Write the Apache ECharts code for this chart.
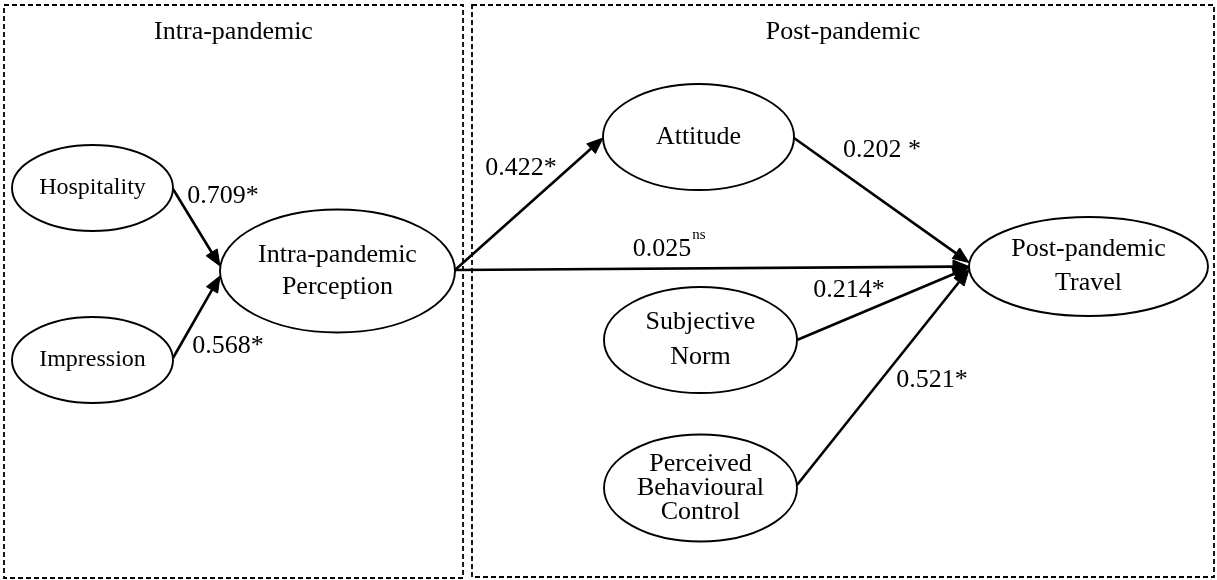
<!DOCTYPE html>
<html>
<head>
<meta charset="utf-8">
<script src="https://cdn.jsdelivr.net/npm/echarts@6/dist/echarts.min.js"></script>
<style>
html,body{margin:0;padding:0;background:#fff;}
#chart{width:1217px;height:580px;}
</style>
</head>
<body>
<div id="chart"></div>
<script>
// ---- data ----
const panelTitles = ['Intra-pandemic', 'Post-pandemic'];
const nodeNames = [
  'Hospitality',
  'Impression',
  'Intra-pandemic\nPerception',
  'Attitude',
  'Subjective\nNorm',
  'Perceived\nBehavioural\nControl',
  'Post-pandemic\nTravel'
];
const edgeFrom = [0, 1, 2, 2, 3, 4, 5];
const edgeTo = [2, 2, 3, 6, 6, 6, 6];
const coefficients = [0.709, 0.568, 0.422, 0.025, 0.202, 0.214, 0.521];
const significance = ['*', '*', '*', 'ns', '*', '*', '*'];

// ---- layout (diagram coordinates, same scale as the hidden axes) ----
const layout = {
  panels: [
    { x0: 4, y0: 5, x1: 463, y1: 578, ty: 32 },
    { x0: 472, y0: 5, x1: 1214, y1: 577, ty: 32 }
  ],
  nodes: [
    { cx: 92.5, cy: 188, rx: 80.5, ry: 43, fs: 24, lh: 30 },
    { cx: 92.5, cy: 360, rx: 80.5, ry: 43, fs: 24, lh: 30 },
    { cx: 337.5, cy: 271, rx: 117.5, ry: 61.5, fs: 26, lh: 32 },
    { cx: 698.5, cy: 137, rx: 95.5, ry: 53, fs: 26, lh: 30 },
    { cx: 700.5, cy: 340, rx: 96.5, ry: 53, fs: 26, lh: 35 },
    { cx: 700.5, cy: 488, rx: 96.5, ry: 53.5, fs: 26, lh: 24 },
    { cx: 1088.5, cy: 266.5, rx: 119.5, ry: 49.5, fs: 26, lh: 34 }
  ],
  edges: [
    { sdy: 1, tdy: -5, lx: 223, ly: 196, sep: '' },
    { sdy: -2, tdy: 5, lx: 228, ly: 346, sep: '' },
    { sdy: -1, tdy: 1, lx: 521, ly: 168, sep: '' },
    { sdy: -1, tdy: 0, lx: 662, ly: 249, sep: '' },
    { sdy: 1, tdy: -4, lx: 882, ly: 150, sep: ' ' },
    { sdy: 0, tdy: 1, lx: 849, ly: 290, sep: '' },
    { sdy: -3, tdy: 3, lx: 932, ly: 380, sep: '' }
  ]
};

const FONT = '"Liberation Serif", "Times New Roman", serif';
const measureCtx = document.createElement('canvas').getContext('2d');
function textWidth(t, fs) { measureCtx.font = fs + 'px ' + FONT; return measureCtx.measureText(t).width; }

const chart = echarts.init(document.getElementById('chart'), null, { renderer: 'canvas' });

function panelItem(params, api) {
  const p = layout.panels[params.dataIndex];
  const a = api.coord([p.x0, p.y0]);
  const b = api.coord([p.x1, p.y1]);
  const t = api.coord([(p.x0 + p.x1) / 2, p.ty]);
  return {
    type: 'group',
    children: [
      { type: 'rect', shape: { x: a[0], y: a[1], width: b[0] - a[0], height: b[1] - a[1] },
        style: { fill: 'none', stroke: '#000', lineWidth: 1.8, lineDash: [5, 3] } },
      { type: 'text', style: { text: panelTitles[params.dataIndex], x: t[0], y: t[1],
        font: '26px ' + FONT, fill: '#000', align: 'center', verticalAlign: 'middle' } }
    ]
  };
}

function nodeItem(params, api) {
  const n = layout.nodes[params.dataIndex];
  const c = api.coord([n.cx, n.cy]);
  const s = api.size([n.rx, n.ry]);
  return {
    type: 'group',
    children: [
      { type: 'ellipse', shape: { cx: c[0], cy: c[1], rx: s[0], ry: s[1] },
        style: { fill: '#fff', stroke: '#000', lineWidth: 1.9 } },
      { type: 'text', style: { text: nodeNames[params.dataIndex], x: c[0], y: c[1],
        font: n.fs + 'px ' + FONT, lineHeight: n.lh, fill: '#000', align: 'center', verticalAlign: 'middle' } }
    ]
  };
}

function edgeItem(params, api) {
  const i = params.dataIndex;
  const e = layout.edges[i];
  const sn = layout.nodes[edgeFrom[i]];
  const tn = layout.nodes[edgeTo[i]];
  const p0 = api.coord([sn.cx + sn.rx, sn.cy + e.sdy]);
  const p1 = api.coord([tn.cx - tn.rx, tn.cy + e.tdy]);
  const dx = p1[0] - p0[0], dy = p1[1] - p0[1];
  const len = Math.sqrt(dx * dx + dy * dy);
  const ux = dx / len, uy = dy / len;
  const L = 16, W = 6.5;
  const bx = p1[0] - ux * L, by = p1[1] - uy * L;
  const arrow = [[p1[0], p1[1]], [bx - uy * W, by + ux * W], [bx + uy * W, by - ux * W]];
  const lp = api.coord([e.lx, e.ly]);
  const numText = coefficients[i].toFixed(3);
  const children = [
    { type: 'line', shape: { x1: p0[0], y1: p0[1], x2: bx + ux * 2, y2: by + uy * 2 },
      style: { stroke: '#000', lineWidth: 2.6 } },
    { type: 'polygon', shape: { points: arrow }, style: { fill: '#000', stroke: '#000', lineWidth: 1 } }
  ];
  if (significance[i] === 'ns') {
    const w = textWidth(numText, 26);
    children.push({ type: 'text', style: { text: numText, x: lp[0], y: lp[1], font: '26px ' + FONT,
      fill: '#000', align: 'center', verticalAlign: 'middle' } });
    children.push({ type: 'text', style: { text: 'ns', x: lp[0] + w / 2 + 1, y: lp[1] - 14, font: '15px ' + FONT,
      fill: '#000', align: 'left', verticalAlign: 'middle' } });
  } else {
    children.push({ type: 'text', style: { text: numText + e.sep + significance[i], x: lp[0], y: lp[1],
      font: '26px ' + FONT, fill: '#000', align: 'center', verticalAlign: 'middle' } });
  }
  return { type: 'group', children };
}

chart.setOption({
  animation: false,
  backgroundColor: '#fff',
  grid: { left: 0, right: 0, top: 0, bottom: 0 },
  xAxis: { type: 'value', min: 0, max: 1217, show: false },
  yAxis: { type: 'value', min: 0, max: 580, inverse: true, show: false },
  series: [
    { type: 'custom', name: 'panels', clip: false, silent: true,
      data: layout.panels.map(p => [p.x0, p.y0]), renderItem: panelItem },
    { type: 'custom', name: 'paths', clip: false, silent: true,
      data: coefficients.map((v, i) => [layout.edges[i].lx, layout.edges[i].ly, v]), renderItem: edgeItem },
    { type: 'custom', name: 'constructs', clip: false, silent: true,
      data: nodeNames.map((n, i) => [layout.nodes[i].cx, layout.nodes[i].cy]), renderItem: nodeItem }
  ]
});
</script>
</body>
</html>
